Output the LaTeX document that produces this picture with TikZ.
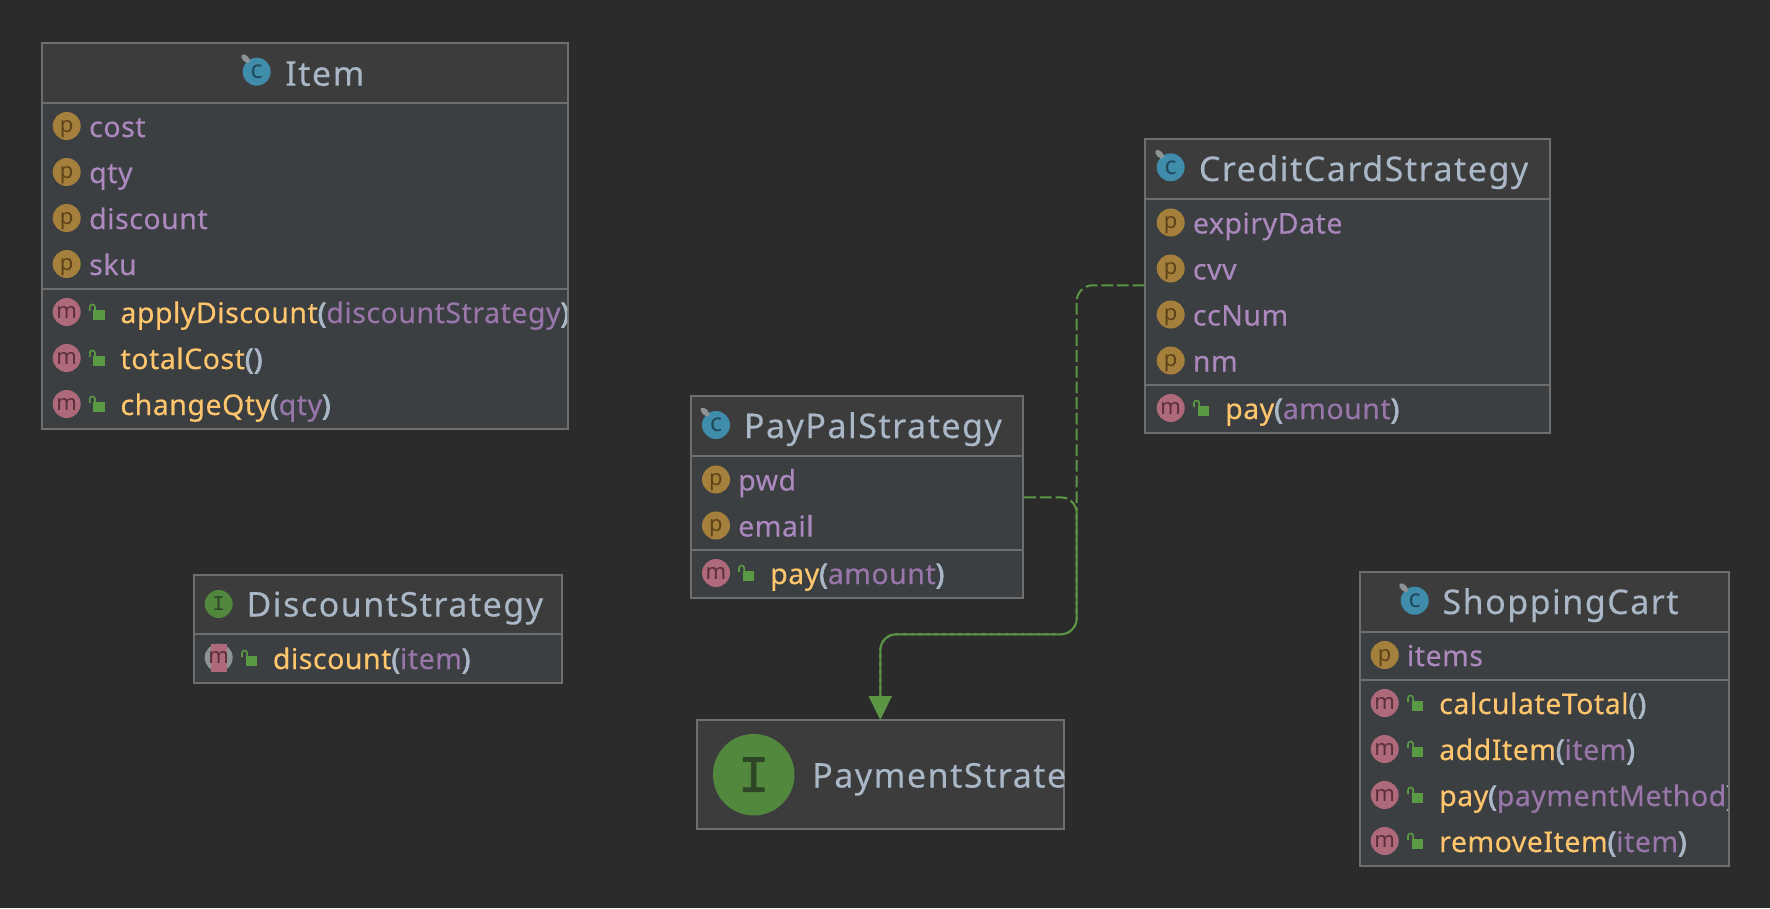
\documentclass[tikz,border=0pt]{standalone}
\usepackage{fontspec}
\setmainfont{Noto Sans}
\newfontfamily\titlefont{Noto Sans}[LetterSpace=4.4,FakeBold=0.25]
\newfontfamily\rowfont{Noto Sans}[LetterSpace=1.8,FakeBold=0.25]
\newfontfamily\brkfont{Noto Sans}[LetterSpace=1.8,FakeBold=2.6]
\newfontfamily\monoI{Liberation Mono}
\newfontfamily\monoIb{Liberation Mono}[FakeBold=1.5]
\definecolor{bgc}{HTML}{2B2B2B}
\definecolor{headc}{HTML}{3C3C3C}
\definecolor{bodyc}{HTML}{3C3F41}
\definecolor{edgec}{HTML}{6E6E6E}
\definecolor{titlec}{HTML}{A9B7C6}
\definecolor{fieldc}{HTML}{AB88BE}
\definecolor{paramc}{HTML}{9876AA}
\definecolor{methc}{HTML}{FFC66D}
\definecolor{linkc}{HTML}{5B9645}
\definecolor{lockc}{HTML}{5A9A45}
\definecolor{pic}{HTML}{A5803C}
\definecolor{pit}{HTML}{5E4318}
\definecolor{mic}{HTML}{AE6A7A}
\definecolor{mit}{HTML}{5A2F38}
\definecolor{cic}{HTML}{3F8CAB}
\definecolor{cit}{HTML}{1F4A5C}
\definecolor{iic}{HTML}{52883D}
\definecolor{iit}{HTML}{2E4526}
\definecolor{pinc}{HTML}{8E9396}
\newcommand{\fsTitle}{\titlefont\fontsize{34}{34}\selectfont}
\newcommand{\fsRow}{\rowfont\fontsize{28.5}{28.5}\selectfont}
\newcommand{\fsIcon}{\fontsize{22}{22}\selectfont}
\tikzset{
  classbody/.style={draw=edgec,line width=1.8pt,fill=bodyc,inner sep=0pt,rectangle},
  head/.style={fill=headc,draw=none},
  sepline/.style={draw=edgec,line width=1.8pt},
  rowtext/.style={anchor=base west,inner sep=0pt,font=\fsRow,xshift=-1pt},
  titletext/.style={anchor=base west,inner sep=0pt,font=\fsTitle,text=titlec,xshift=-2pt},
  icon/.style={circle,inner sep=0pt,minimum size=28pt,text depth=0pt,font=\fsIcon},
  picon/.style={icon,fill=pic,text=pit},
  micon/.style={icon,fill=mic,text=mit},
  cicon/.style={icon,minimum size=28pt,fill=cic,text=cit,font=\fontsize{25}{25}\selectfont},
  iicon/.style={icon,fill=iic,text=iit},
  lockbody/.style={fill=lockc,draw=none},
  lockarc/.style={draw=lockc,line width=1.6pt},
  pinmark/.style={fill=pinc,draw=none},
  link/.style={draw=linkc,line width=2pt,dash pattern=on 11.7pt off 4pt,rounded corners=16pt},
  tip/.style={fill=linkc,draw=none}
}
% \cbox{name}{x0}{y0}{x1}{y1}{header bottom}
\newcommand{\cbox}[6]{%
  \node[classbody,minimum width={#4-#2},minimum height={#5-#3}] (#1) at ({(#2+#4)/2},{(#3+#5)/2}) {};
  \fill[head] (#2+0.9,#3+0.9) rectangle (#4-0.9,#6);
  \draw[sepline] (#2,#6) -- (#4,#6);
}
\newcommand{\sepat}[3]{\draw[sepline] (#1,#3) -- (#2,#3);}
% \lockicon{L}{T}
\newcommand{\lockicon}[2]{%
  \draw[lockarc] (#1+1,#2+7) -- (#1+1,#2+3) arc[start angle=180,end angle=0,radius=2.6pt] -- (#1+6.2,#2+6);
  \fill[lockbody] (#1+4.5,#2+6) rectangle (#1+16,#2+16);
}
% \pfield{name}{iconx}{textx}{baseline}{text}
\newcommand{\pfield}[5]{%
  \node[picon] (#1i) at (#2,#4-11) {p};
  \node[rowtext,text=fieldc] (#1) at (#3,#4) {#5};
}
% \mrow{name}{iconx}{lockL}{textx}{baseline}{text}
\newcommand{\mrow}[6]{%
  \node[micon] (#1i) at (#2,#5-11) {m};
  \lockicon{#3}{#5-19}
  \node[rowtext] (#1) at (#4,#5) {#6};
}
\newcommand{\mth}[1]{\textcolor{methc}{#1}}
\newcommand{\prm}[1]{\textcolor{paramc}{#1}}
\newcommand{\brk}[1]{\textcolor{titlec}{{\brkfont\fontsize{28.5}{28.5}\selectfont #1}}}
% \cicn{name}{x}{y}
\newcommand{\cicn}[3]{%
  \node[cicon] (#1) at (#2,#3) {c};
  \fill[pinmark,rotate around={-45:(#2-11,#3-13)}] (#2-11,#3-13) ellipse[x radius=5.5pt,y radius=3pt];
}
\begin{document}
\begin{tikzpicture}[x=1pt,y=-1pt]
\useasboundingbox (0,0) rectangle (1770,908);
\fill[bgc] (0,0) rectangle (1770,908);

% Item
\cbox{item}{42}{43}{568}{429}{102.7}
\sepat{42}{568}{288.7}
\cicn{itemc}{256.7}{71.7}
\node[titletext] (itemt) at (287,85.7) {Item};
\pfield{fa}{66.7}{90}{137}{cost}
\pfield{fb}{66.7}{90}{183}{qty}
\pfield{fc}{66.7}{90}{229}{discount}
\pfield{fd}{66.7}{90}{275}{sku}
\begin{scope}
\clip (42,290) rectangle (567,428);
\mrow{ma}{66.7}{88.8}{121.3}{323}{\mth{applyDiscount}\brk{(}\prm{discountStrategy}\brk{)}}
\end{scope}
\mrow{mb}{66.7}{88.8}{121.3}{369}{\mth{totalCost}\brk{()}}
\mrow{mc}{66.7}{88.8}{121.3}{415}{\mth{changeQty}\brk{(}\prm{qty}\brk{)}}

% DiscountStrategy
\cbox{disc}{193.7}{574.7}{562.3}{683.3}{634.3}
\node[iicon,minimum size=28pt] (disci) at (218.7,604) {\monoI\fontsize{21}{21}\selectfont I};
\node[titletext] (disct) at (248.3,616.5) {DiscountStrategy};
\fill[pinc] (218.7,657.7) circle[radius=14pt];
\fill[mic] (210.7,643.7) rectangle (226.7,671.7);
\node[inner sep=0pt,font=\fsIcon,text=mit] (dmi) at (218.7,657.7) {m};
\lockicon{241}{650}
\node[rowtext] (dm) at (273.7,669) {\mth{discount}\brk{(}\prm{item}\brk{)}};

% PayPalStrategy
\cbox{pp}{690.7}{395.7}{1023.3}{598.3}{456}
\cicn{ppc}{716}{425}
\node[titletext] (ppt) at (745.7,438) {PayPalStrategy};
\pfield{pa}{716}{739}{490.5}{pwd}
\pfield{pb}{716}{739}{536.5}{email}
\mrow{pc}{716}{738}{771}{584}{\mth{pay}\brk{(}\prm{amount}\brk{)}}
\sepat{690.7}{1023.3}{550}

% PaymentStrategy
\node[rectangle,draw=edgec,line width=1.8pt,fill=headc,inner sep=0pt,minimum width=367pt,minimum height=109pt] (ps) at (880.8,774.8) {};
\node[circle,fill=iic,inner sep=0pt,minimum size=81.5pt,text=iit,font=\monoIb\fontsize{52}{52}\selectfont] (psi) at (753.7,774.7) {I};
\node[titletext] (pst) at (814,787.5) {PaymentStrate};

% CreditCardStrategy
\cbox{cc}{1145.3}{138.7}{1550.3}{433}{199}
\sepat{1145.3}{1550.3}{385}
\cicn{ccc}{1170.7}{167.3}
\node[titletext] (cct) at (1200.7,181) {CreditCardStrategy};
\pfield{ca}{1170.7}{1193.7}{233.5}{expiryDate}
\pfield{cb}{1170.7}{1193.7}{279.5}{cvv}
\pfield{cd}{1170.7}{1193.7}{325.5}{ccNum}
\pfield{ce}{1170.7}{1193.7}{371.5}{nm}
\mrow{cf}{1170.7}{1193}{1226}{419}{\mth{pay}\brk{(}\prm{amount}\brk{)}}

% ShoppingCart
\cbox{sc}{1359.7}{571.7}{1728.7}{866}{631.7}
\sepat{1359.7}{1728.7}{679.7}
\cicn{scc}{1414.7}{600.7}
\node[titletext] (sct) at (1444.3,614) {ShoppingCart};
\pfield{sa}{1384.7}{1407.7}{666}{items}
\mrow{sb}{1384.7}{1407}{1440}{714}{\mth{calculateTotal}\brk{()}}
\mrow{sd}{1384.7}{1407}{1440}{760}{\mth{addItem}\brk{(}\prm{item}\brk{)}}
\begin{scope}
\clip (1360,680) rectangle (1728,865);
\mrow{se}{1384.7}{1407}{1440}{806}{\mth{pay}\brk{(}\prm{paymentMethod}\brk{)}}
\end{scope}
\mrow{sf}{1384.7}{1407}{1440}{852}{\mth{removeItem}\brk{(}\prm{item}\brk{)}}

% connectors
\coordinate (ppout) at (pp.east |- 0,497.3);
\coordinate (ccout) at (cc.west |- 0,285.3);
\coordinate (psin) at (880.3,696);
\draw[link] (ppout) -- (1076.7,497.3) -- (1076.7,634.3) -- (880.3,634.3) -- (psin);
\draw[link] (ccout) -- (1076.7,285.3) -- (1076.7,634.3) -- (880.3,634.3) -- (psin);
\fill[tip] (880.3,720) -- (868.5,696) -- (892,696) -- cycle;
\end{tikzpicture}
\end{document}
